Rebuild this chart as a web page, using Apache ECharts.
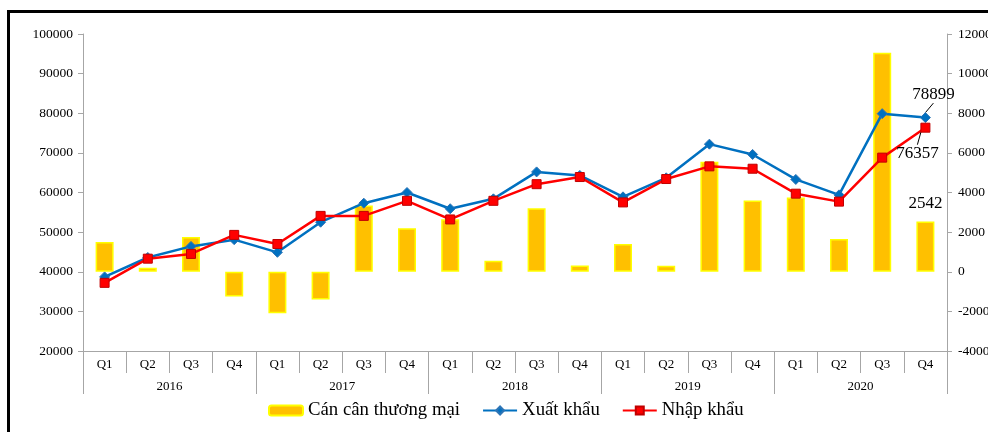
<!DOCTYPE html>
<html>
<head>
<meta charset="utf-8">
<script src="https://cdn.jsdelivr.net/npm/echarts@6/dist/echarts.min.js"></script>
<style>
html,body{margin:0;padding:0;background:#fff;overflow:hidden;width:988px;height:432px;}
#wrap{position:relative;width:988px;height:432px;overflow:hidden;}
#chart{position:absolute;left:0;top:0;width:988px;height:432px;}
#frame{position:absolute;left:7px;top:10px;width:1100px;height:600px;border:3px solid #000;box-sizing:border-box;pointer-events:none;}
</style>
</head>
<body>
<div id="wrap"><div id="chart"></div><div id="frame"></div></div>
<script>
const quarters = ['Q1','Q2','Q3','Q4','Q1','Q2','Q3','Q4','Q1','Q2','Q3','Q4','Q1','Q2','Q3','Q4','Q1','Q2','Q3','Q4'];
const years = ['2016','2017','2018','2019','2020'];
const exportVals = [38700, 43600, 46400, 48100, 44900, 52500, 57300, 60000, 55900, 58400, 65200, 64300, 58900, 63700, 72200, 69600, 63300, 59400, 79900, 78899];
const importVals = [37200, 43300, 44500, 49300, 47000, 54100, 54100, 57900, 53200, 57900, 62100, 63900, 57500, 63400, 66600, 66000, 59700, 57700, 68800, 76357];
const balanceVals = [1500, 200, 1750, -1250, -2100, -1400, 3350, 2200, 2650, 550, 3200, 320, 1400, 300, 5550, 3600, 3750, 1650, 11050, 2542];
const seriesNames = ['Cán cân thương mại', 'Xuất khẩu', 'Nhập khẩu'];

const FONT = '"Liberation Serif", "Times New Roman", serif';
const last = quarters.length - 1;

function withLastLabel(arr, labelOpt) {
  return arr.map((v, i) => i === last ? { value: v, label: labelOpt } : v);
}
const plain = v => String(v);

const chart = echarts.init(document.getElementById('chart'), null, { width: 988, height: 432 });
chart.setOption({
  animation: false,
  backgroundColor: '#fff',
  textStyle: { fontFamily: FONT, color: '#000' },
  grid: { left: 83, right: 41, top: 34, bottom: 81, containLabel: false, outerBoundsMode: 'none' },
  legend: {
    bottom: 7,
    left: 263,
    itemGap: 22,
    itemWidth: 34,
    itemHeight: 10,
    textStyle: { fontFamily: FONT, fontSize: 18.8, color: '#000' },
    data: seriesNames
  },
  xAxis: [
    {
      type: 'category',
      data: quarters,
      position: 'bottom',
      axisLine: { onZero: false, lineStyle: { color: '#A6A6A6', width: 1 } },
      axisTick: { show: true, interval: 0, length: 22, lineStyle: { color: '#A6A6A6' } },
      axisLabel: { interval: 0, margin: 7, fontSize: 13, color: '#000', fontFamily: FONT }
    },
    {
      type: 'category',
      data: years,
      position: 'bottom',
      axisLine: { onZero: false, lineStyle: { color: '#A6A6A6', width: 1 } },
      axisTick: { show: true, interval: 0, length: 43, lineStyle: { color: '#A6A6A6' } },
      axisLabel: { interval: 0, margin: 29, fontSize: 13, color: '#000', fontFamily: FONT }
    }
  ],
  yAxis: [
    {
      type: 'value',
      min: 20000, max: 100000, interval: 10000,
      position: 'left',
      splitLine: { show: false },
      axisLine: { show: true, lineStyle: { color: '#A6A6A6' } },
      axisTick: { show: true, length: 5, lineStyle: { color: '#A6A6A6' } },
      axisLabel: { fontSize: 13.5, color: '#000', fontFamily: FONT, margin: 10, formatter: plain }
    },
    {
      type: 'value',
      min: -4000, max: 12000, interval: 2000,
      position: 'right',
      splitLine: { show: false },
      axisLine: { show: true, lineStyle: { color: '#A6A6A6' } },
      axisTick: { show: true, length: 5, lineStyle: { color: '#A6A6A6' } },
      axisLabel: { fontSize: 13.5, color: '#000', fontFamily: FONT, margin: 11, formatter: plain }
    }
  ],
  series: [
    {
      name: seriesNames[0],
      type: 'bar',
      xAxisIndex: 0,
      yAxisIndex: 1,
      barWidth: 18,
      itemStyle: { color: '#FFC000', borderColor: '#FFFF00', borderWidth: 1.5 },
      data: withLastLabel(balanceVals, {
        show: true, position: 'top', distance: 9,
        fontSize: 17, fontFamily: FONT, color: '#000', formatter: p => plain(p.value)
      }),
      z: 1
    },
    {
      name: seriesNames[1],
      type: 'line',
      xAxisIndex: 0,
      yAxisIndex: 0,
      symbol: 'diamond',
      symbolSize: 10,
      lineStyle: { color: '#0070C0', width: 2.5 },
      itemStyle: { color: '#0070C0', borderColor: '#2E75B6', borderWidth: 1 },
      data: withLastLabel(exportVals, {
        show: true, position: 'top', distance: 8,
        fontSize: 17, fontFamily: FONT, color: '#000', formatter: p => plain(p.value)
      }),
      labelLayout: { dx: 8, dy: -1 },
      labelLine: { show: true, lineStyle: { color: '#000', width: 1 } },
      z: 3
    },
    {
      name: seriesNames[2],
      type: 'line',
      xAxisIndex: 0,
      yAxisIndex: 0,
      symbol: 'rect',
      symbolSize: 9,
      lineStyle: { color: '#FF0000', width: 2.5 },
      itemStyle: { color: '#FF0000', borderColor: '#C00000', borderWidth: 1 },
      data: withLastLabel(importVals, {
        show: true, position: 'bottom', distance: 8,
        fontSize: 17, fontFamily: FONT, color: '#000', formatter: p => plain(p.value)
      }),
      labelLayout: { dx: -8, dy: 4 },
      labelLine: { show: true, lineStyle: { color: '#000', width: 1 } },
      z: 4
    }
  ]
});
</script>
</body>
</html>
